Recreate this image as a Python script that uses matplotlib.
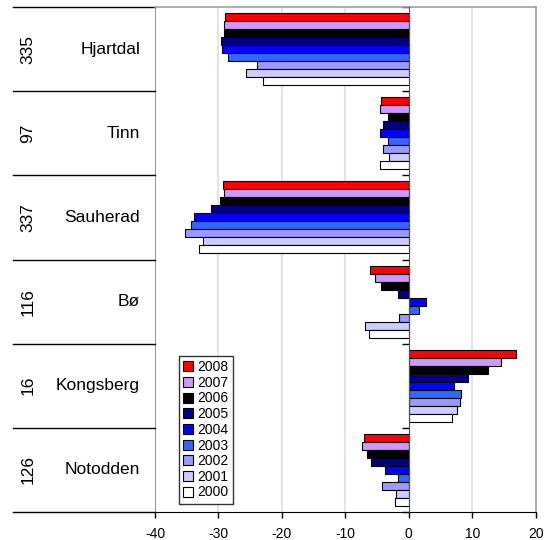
import matplotlib
matplotlib.use("Agg")
import matplotlib.pyplot as plt
import numpy as np

plt.rcParams['font.family'] = ['Liberation Sans', 'DejaVu Sans']
plt.rcParams['axes.unicode_minus'] = False

categories = ["Hjartdal", "Tinn", "Sauherad", "Bø", "Kongsberg", "Notodden"]
codes = ["335", "97", "337", "116", "16", "126"]
years = ["2008", "2007", "2006", "2005", "2004", "2003", "2002", "2001", "2000"]
colors = ["#FF0000", "#CC99FF", "#000000", "#000080", "#0000FF", "#3366FF",
          "#9999FF", "#CCCCFF", "#FFFFFF"]

# values per year for each category
v2008 = [-29.0, -4.4, -29.3, -6.1, 16.9, -7.1]
v2007 = [-29.2, -4.5, -29.1, -5.3, 14.6, -7.3]
v2006 = [-29.2, -3.3, -29.8, -4.4, 12.5, -6.6]
v2005 = [-29.6, -4.0, -31.1, -1.7, 9.3, -5.9]
v2004 = [-29.5, -4.6, -33.9, 2.7, 7.1, -3.8]
v2003 = [-28.5, -3.3, -34.4, 1.6, 8.2, -1.7]
v2002 = [-24.0, -4.0, -35.3, -1.6, 8.0, -4.3]
v2001 = [-25.7, -3.1, -32.4, -6.9, 7.6, -2.0]
v2000 = [-23.0, -4.5, -33.1, -6.3, 6.8, -2.1]
series = [v2008, v2007, v2006, v2005, v2004, v2003, v2002, v2001, v2000]

W, H = 545, 540
fig = plt.figure(figsize=(W / 100, H / 100), dpi=100)
left, right, top, bottom = 155, 535.7, 7, 512
ax = fig.add_axes([left / W, (H - bottom) / H, (right - left) / W, (bottom - top) / H])

n = len(categories)
nb = len(series)
h = 1 / 10.5
for j, (vals, col, yr) in enumerate(zip(series, colors, years)):
    ys = np.arange(n) + 0.5 + (j - (nb - 1) / 2) * h
    ax.barh(ys, vals, height=h, color=col, edgecolor='black', linewidth=0.8,
            label=yr, zorder=3)

ax.set_xlim(-40, 20)
ax.set_ylim(n, 0)

# grid lines
for gx in [-30, -20, -10, 10]:
    ax.axvline(gx, color='#DCDCF8', lw=1.2, zorder=1)
ax.axvline(-40, color='#808080', lw=1.2, zorder=2)

for s in ['top', 'right']:
    ax.spines[s].set_color('#A0A0A0')
    ax.spines[s].set_linewidth(1.2)
ax.spines['bottom'].set_color('black')
ax.spines['left'].set_position(('data', 0))
ax.spines['left'].set_color('#505050')
ax.spines['left'].set_zorder(4)
ax.set_yticks(np.arange(n + 1))
ax.set_yticklabels([])
ax.tick_params(axis='y', direction='out', length=5, width=1, color='black')
ax.set_xticks([-40, -30, -20, -10, 0, 10, 20])
ax.tick_params(axis='x', direction='out', length=4, width=1, labelsize=10, pad=7)

# left category area
ytr = ax.get_yaxis_transform()
x0 = (13 - left) / (right - left)
for b in range(n + 1):
    ax.plot([x0, 0], [b, b], transform=ytr, color='black', lw=1, clip_on=False)
name_x = (140 - left) / (right - left)
code_x = (28 - left) / (right - left)
for i, (c, cd) in enumerate(zip(categories, codes)):
    ax.text(name_x, i + 0.5, c, transform=ytr, ha='right', va='center', fontsize=12.5)
    ax.text(code_x, i + 0.5, cd, transform=ytr, ha='center', va='center',
            fontsize=12.5, rotation=90)

leg = ax.legend(loc='upper left', bbox_to_anchor=((179 - left) / (right - left), (bottom - 356) / (bottom - top)),
                borderaxespad=0, fontsize=10, frameon=True, fancybox=False,
                labelspacing=0.12, handlelength=0.7, handleheight=0.7,
                handletextpad=0.35, borderpad=0.3)
leg.get_frame().set_edgecolor('black')
leg.get_frame().set_linewidth(1)
leg.set_zorder(5)

fig.savefig("out.png", dpi=100)
